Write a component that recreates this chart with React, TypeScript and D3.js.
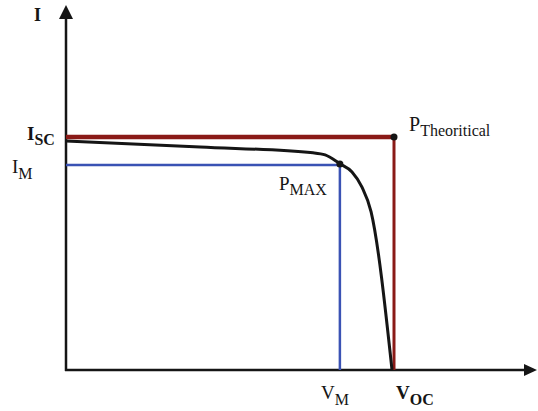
import React from "react";
import * as d3 from "d3";

// I-V curve (normalised: V/Voc, I/Isc)
const curveV = [0, 0.409, 0.753, 0.79, 0.835, 0.872, 0.902, 0.93, 0.994];
const curveI = [0.983, 0.957, 0.932, 0.923, 0.885, 0.85, 0.786, 0.68, 0];
const markerNames = ["Vm", "Voc", "Im", "Isc"];
const markerValues = [0.835, 1, 0.88, 1];

const W = 538;
const H = 411;

export default function App() {
  const [Vm, Voc, Im, Isc] = markerValues;
  const x = d3.scaleLinear().domain([0, 1]).range([66, 394]);
  const y = d3.scaleLinear().domain([0, 1]).range([370, 137]);
  const pts: [number, number][] = curveV.map((v, i) => [v, curveI[i]]);
  const line = d3
    .line<[number, number]>()
    .x((d) => x(d[0]))
    .y((d) => y(d[1]))
    .curve(d3.curveMonotoneX);

  const red = "#8a1a17";
  const blue = "#3a52b4";
  const ink = "#151515";
  const font = "'Liberation Serif', 'Times New Roman', serif";
  const x0 = x(0);
  const y0 = y(0);
  const big = 19;
  const small = 16;

  return (
    <svg
      width={W}
      height={H}
      style={{ position: "absolute", left: 0, top: 0, background: "#fff" }}
      fontFamily={font}
    >
      {/* axes */}
      <line x1={x0} y1={y0 + 1} x2={x0} y2={16} stroke={ink} strokeWidth={2.5} />
      <path d={`M${x0},5 L${x0 - 7},19 L${x0 + 7},19 Z`} fill={ink} />
      <line x1={x0 - 1} y1={y0} x2={526} y2={y0} stroke={ink} strokeWidth={2.5} />
      <path d={`M537,${y0} L524,${y0 - 6} L524,${y0 + 6} Z`} fill={ink} />

      {/* theoretical rectangle */}
      <line x1={x0} y1={y(Isc)} x2={x(Voc)} y2={y(Isc)} stroke={red} strokeWidth={4.5} />
      <line x1={x(Voc)} y1={y(Isc)} x2={x(Voc)} y2={y0} stroke={red} strokeWidth={3} />

      {/* MPP rectangle */}
      <line x1={x0} y1={y(Im)} x2={x(Vm)} y2={y(Im)} stroke={blue} strokeWidth={2.5} />
      <line x1={x(Vm)} y1={y(Im)} x2={x(Vm)} y2={y0} stroke={blue} strokeWidth={2.5} />

      {/* I-V curve */}
      <path d={line(pts) || ""} fill="none" stroke={ink} strokeWidth={3} strokeLinejoin="round" />

      {/* points */}
      <circle cx={x(Vm)} cy={y(Im) - 1} r={3.5} fill={ink} />
      <circle cx={x(Voc)} cy={y(Isc)} r={3.5} fill={ink} />

      {/* labels */}
      <text x={34} y={21} fontSize={18} fontWeight="bold" fill={ink}>I</text>
      <text x={27} y={140} fontSize={big} fontWeight="bold" fill={ink}>
        I<tspan fontSize={small} dy={5}>SC</tspan>
      </text>
      <text x={12} y={173} fontSize={big} fill={ink}>
        I<tspan fontSize={small} dy={6}>M</tspan>
      </text>
      <text x={279} y={190} fontSize={big} fill={ink}>
        P<tspan fontSize={small} dy={5}>MAX</tspan>
      </text>
      <text x={409} y={131} fontSize={20} fill={ink}>
        P<tspan fontSize={small} dy={5}>Theoritical</tspan>
      </text>
      <text x={321} y={399} fontSize={big} fill={ink}>
        V<tspan fontSize={small} dy={6}>M</tspan>
      </text>
      <text x={396} y={399} fontSize={big} fontWeight="bold" fill={ink}>
        V<tspan fontSize={small} dy={6}>OC</tspan>
      </text>
    </svg>
  );
}
